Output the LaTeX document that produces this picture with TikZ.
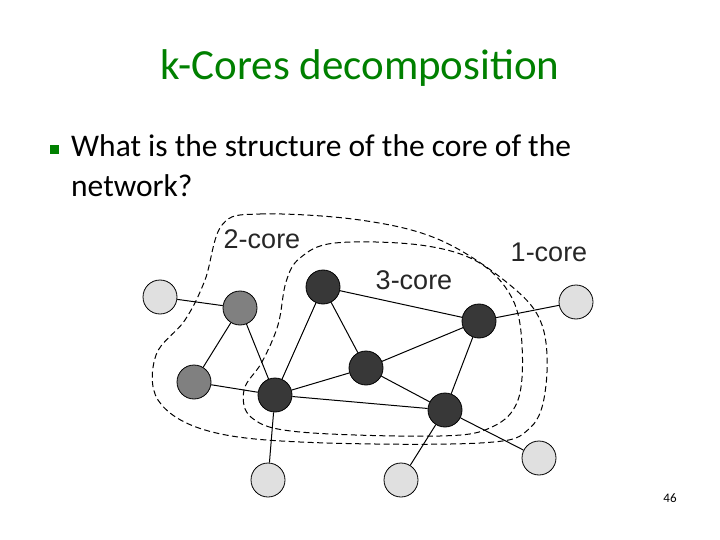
\documentclass[tikz,border=0pt]{standalone}
\usepackage{fontspec}
\setmainfont{Carlito}
\newfontfamily\arialf{Liberation Sans}
\definecolor{ttl}{RGB}{0,128,0}
\begin{document}
\begin{tikzpicture}[x=1pt,y=-1pt,
  vtx/.style={circle,draw=black,line width=0.8pt,minimum size=34pt,inner sep=0pt},
  lt/.style={vtx,fill=black!12},
  gr/.style={vtx,fill=black!50},
  dk/.style={vtx,fill=black!78},
  edge/.style={line width=1pt},
  core/.style={line width=1pt,dash pattern=on 6pt off 3.5pt},
  lbl/.style={font=\arialf\fontsize{27}{30}\selectfont,text=black!85}]
\useasboundingbox (0,0) rectangle (720,540);
\node[text=ttl,font=\fontsize{43}{48}\selectfont] (title) at (360,68) {k-Cores decomposition};
\node[fill=ttl,minimum size=9pt,inner sep=0pt] (bul) at (54,150) {};
\node[anchor=north west,align=left,font=\fontsize{31.5}{40}\selectfont,inner sep=0pt] (q) at (71,134) {What is the structure of the core of the\\network?};
\node[font=\fontsize{13}{14}\selectfont] (pg) at (670,498) {46};
\draw[core] plot[smooth cycle,tension=0.6] coordinates {(222,225)(260,214)(360,220)(440,240)(510,285)(542,325)(546,385)(530,428)(480,443)(300,442)(205,430)(158,400)(156,355)(185,320)(205,280)};
\draw[core] plot[smooth cycle,tension=0.6] coordinates {(300,258)(335,243)(420,245)(478,262)(512,298)(522,345)(518,400)(492,427)(440,436)(300,432)(252,418)(244,390)(262,362)(278,325)(286,282)};
\node[lbl] (l2) at (262,239) {2-core};
\node[lbl] (l3) at (414,280) {3-core};
\node[lbl] (l1) at (549,252) {1-core};
\node[lt] (a) at (160,297) {};
\node[lt] (b) at (576,302) {};
\node[lt] (c) at (268,480) {};
\node[lt] (d) at (401,480) {};
\node[lt] (e) at (539,458) {};
\node[gr] (g1) at (240,308) {};
\node[gr] (g2) at (194,382) {};
\node[dk] (t) at (323,287) {};
\node[dk] (r) at (479,321) {};
\node[dk] (m) at (366,368) {};
\node[dk] (p) at (275,395) {};
\node[dk] (q2) at (445,410) {};
\draw[edge] (a)--(g1) (g1)--(g2) (g1)--(p) (g2)--(p) (t)--(p) (t)--(m) (t)--(r)
 (p)--(m) (p)--(q2) (m)--(q2) (m)--(r) (r)--(q2) (r)--(b) (q2)--(e) (q2)--(d) (p)--(c);
\end{tikzpicture}
\end{document}
